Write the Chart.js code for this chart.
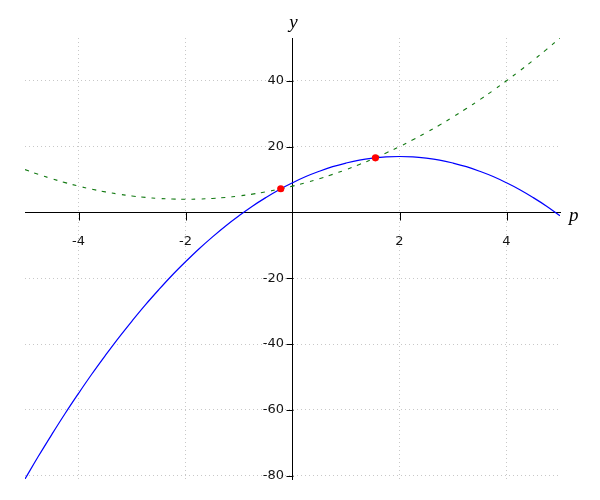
<!DOCTYPE html>
<html>
<head>
<meta charset="utf-8">
<script src="https://cdn.jsdelivr.net/npm/chart.js@4/dist/chart.umd.min.js"></script>
<style>
  html, body { margin: 0; padding: 0; background: #fff; }
  #wrap { width: 600px; height: 500px; }
</style>
</head>
<body>
<div id="wrap"><canvas id="c" width="600" height="500"></canvas></div>
<script>
// ---- data ----
const pValues = [-5, -4.75, -4.5, -4.25, -4, -3.75, -3.5, -3.25, -3, -2.75, -2.5, -2.25, -2, -1.75, -1.5, -1.25, -1, -0.75, -0.5, -0.25, 0,
                 0.25, 0.5, 0.75, 1, 1.25, 1.5, 1.75, 2, 2.25, 2.5, 2.75, 3, 3.25, 3.5, 3.75, 4, 4.25, 4.5, 4.75, 5];
const blueValues = [-81, -74.1, -67.5, -61.1, -55, -49.1, -43.5, -38.1, -33, -28.1, -23.5, -19.1, -15, -11.1, -7.5, -4.1, -1, 1.9, 4.5, 6.9, 9,
                    10.9, 12.5, 13.9, 15, 15.9, 16.5, 16.9, 17, 16.9, 16.5, 15.9, 15, 13.9, 12.5, 10.9, 9, 6.9, 4.5, 1.9, -1];
const greenValues = [13, 11.56, 10.25, 9.06, 8, 7.06, 6.25, 5.56, 5, 4.56, 4.25, 4.06, 4, 4.06, 4.25, 4.56, 5, 5.56, 6.25, 7.06, 8,
                     9.06, 10.25, 11.56, 13, 14.56, 16.25, 18.06, 20, 22.06, 24.25, 26.56, 29, 31.56, 34.25, 37.06, 40, 43.06, 46.25, 49.56, 53];
const pointP = [-0.22, 1.55];
const pointY = [7.19, 16.6];
const xTicks = [-4, -2, 2, 4];
const yTicks = [-80, -60, -40, -20, 20, 40];
const xLabel = 'p';
const yLabel = 'y';

const toXY = (xs, ys) => xs.map((x, i) => ({ x: x, y: ys[i] }));

const tickFont = { family: '"DejaVu Sans", sans-serif', size: 13 };
const tickColor = '#151515';

// Draws tick marks, y tick labels (left of the centred y axis) and axis titles
const axisText = {
  id: 'axisText',
  afterDraw(chart) {
    const { ctx, scales: { x, y } } = chart;
    const x0 = Math.round(x.getPixelForValue(0)) + 0.5;
    const y0 = Math.round(y.getPixelForValue(0)) + 0.5;
    ctx.save();
    ctx.strokeStyle = '#000';
    ctx.lineWidth = 1;
    ctx.beginPath();
    x.ticks.forEach(t => {
      const px = Math.round(x.getPixelForValue(t.value)) + 0.5;
      ctx.moveTo(px, y0);
      ctx.lineTo(px, y0 + 8);
    });
    y.ticks.forEach(t => {
      const py = Math.round(y.getPixelForValue(t.value)) + 0.5;
      ctx.moveTo(x0, py);
      ctx.lineTo(x0 - 7, py);
    });
    ctx.stroke();

    ctx.fillStyle = tickColor;
    ctx.font = tickFont.size + 'px ' + tickFont.family;
    ctx.textAlign = 'right';
    ctx.textBaseline = 'middle';
    y.ticks.forEach(t => {
      ctx.fillText(String(t.value), x0 - 9.5, y.getPixelForValue(t.value));
    });
    ctx.fillStyle = '#000';
    ctx.font = 'italic 19px "Liberation Serif", "DejaVu Serif", serif';
    ctx.textAlign = 'left';
    ctx.fillText(xLabel, x.right + 9, y.getPixelForValue(0) + 4);
    ctx.textAlign = 'center';
    ctx.fillText(yLabel, x0, y.top - 15);
    ctx.restore();
  }
};

new Chart(document.getElementById('c'), {
  type: 'scatter',
  data: {
    datasets: [
      {
        data: toXY(pValues, blueValues),
        showLine: true,
        borderColor: '#0000ff',
        borderWidth: 1.2,
        pointRadius: 0,
        tension: 0.4,
        fill: false,
        order: 2
      },
      {
        data: toXY(pValues, greenValues),
        showLine: true,
        borderColor: '#137a13',
        borderWidth: 1.1,
        borderDash: [4, 6],
        pointRadius: 0,
        tension: 0.4,
        fill: false,
        order: 3
      },
      {
        data: toXY(pointP, pointY),
        showLine: false,
        pointRadius: 3.6,
        pointBackgroundColor: '#ff0000',
        pointBorderColor: '#ff0000',
        pointBorderWidth: 0,
        order: 1
      }
    ]
  },
  options: {
    responsive: false,
    animation: false,
    layout: { padding: { left: 25, right: 40, top: 38, bottom: 21 } },
    plugins: { legend: { display: false }, tooltip: { enabled: false } },
    scales: {
      x: {
        type: 'linear',
        min: -5, max: 5,
        position: { y: 0 },
        afterBuildTicks: (s) => { s.ticks = xTicks.map(v => ({ value: v })); },
        grid: { color: '#c8c8c8', lineWidth: 1, drawTicks: false },
        border: { display: true, color: '#000', width: 1, dash: [1, 3] },
        ticks: { color: tickColor, font: tickFont, padding: 21, maxRotation: 0, autoSkip: false }
      },
      y: {
        type: 'linear',
        min: -81, max: 53,
        position: { x: 0 },
        afterBuildTicks: (s) => { s.ticks = yTicks.map(v => ({ value: v })); },
        grid: { color: '#c8c8c8', lineWidth: 1, drawTicks: false },
        border: { display: true, color: '#000', width: 1, dash: [1, 3] },
        ticks: { display: false }
      }
    }
  },
  plugins: [axisText]
});
</script>
</body>
</html>
